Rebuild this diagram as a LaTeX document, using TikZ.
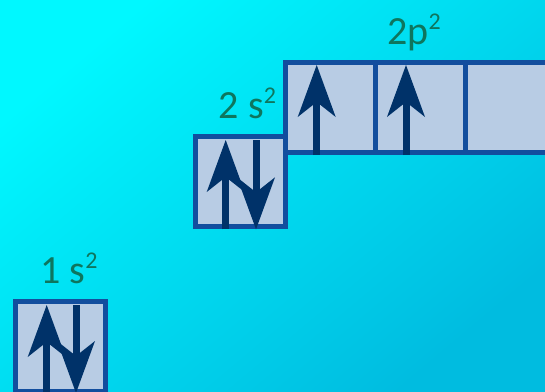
\documentclass[tikz,border=0pt]{standalone}
\usepackage{fontspec}
\setmainfont{Carlito}
\usetikzlibrary{arrows.meta,calc}
\definecolor{bgA}{RGB}{0,248,255}
\definecolor{bgB}{RGB}{0,188,224}
\definecolor{boxfill}{RGB}{184,204,228}
\definecolor{boxline}{RGB}{18,78,158}
\definecolor{spin}{RGB}{0,50,105}
\definecolor{lbl}{RGB}{14,118,94}
\tikzset{
  orb/.style={draw=boxline, fill=boxfill, line width=5pt, minimum width=90pt, minimum height=90pt, inner sep=0pt, outer sep=0pt},
  spinarrow/.style={draw=spin, line width=7pt, -{Stealth[length=52pt,width=38pt,inset=15pt,line width=0pt]}},
  orblabel/.style={text=lbl, font=\fontsize{40}{40}\selectfont, anchor=base, inner sep=0pt}
}
\newcommand{\supr}[1]{{\fontsize{24}{24}\selectfont\raisebox{15pt}{#1}}}
\begin{document}
\begin{tikzpicture}[x=1pt,y=-1pt]
\useasboundingbox (0,0) rectangle (545,391);
\shade[top color=bgA, bottom color=bgB, shading angle=40] (-1,-1) rectangle (546,392);
% boxes
\node[orb] (s1) at (60.8,346.8) {};
\node[orb] (s2) at (240.8,181.8) {};
\node[orb] (p1) at (330.7,107.2) {};
\node[orb] (p2) at (420.8,107.2) {};
\node[orb] (p3) at (510.8,107.2) {};
% labels
\node[orblabel] (l1) at (69,283.3) {1 s\supr{2}};
\node[orblabel] (l2) at (247.5,118.3) {2 s\supr{2}};
\node[orblabel] (l3) at (414,44) {2p\supr{2}};
% arrow end points
\coordinate (s1ub) at (46.7,396);
\coordinate (s1ut) at (46.7,305);
\coordinate (s1dt) at (76,305);
\coordinate (s1db) at (76,393);
\coordinate (s2ub) at (225.7,229.3);
\coordinate (s2ut) at (225.7,140);
\coordinate (s2dt) at (256,140);
\coordinate (s2db) at (256,229.3);
\coordinate (p1b) at (316.7,155);
\coordinate (p1t) at (316.7,65);
\coordinate (p2b) at (406,155);
\coordinate (p2t) at (406,65);
% spins
\draw[spinarrow] (s1ub) -- (s1ut);
\draw[spinarrow] (s1dt) -- (s1db);
\draw[spinarrow] (s2ub) -- (s2ut);
\draw[spinarrow] (s2dt) -- (s2db);
\draw[spinarrow] (p1b) -- (p1t);
\draw[spinarrow] (p2b) -- (p2t);
\end{tikzpicture}
\end{document}
